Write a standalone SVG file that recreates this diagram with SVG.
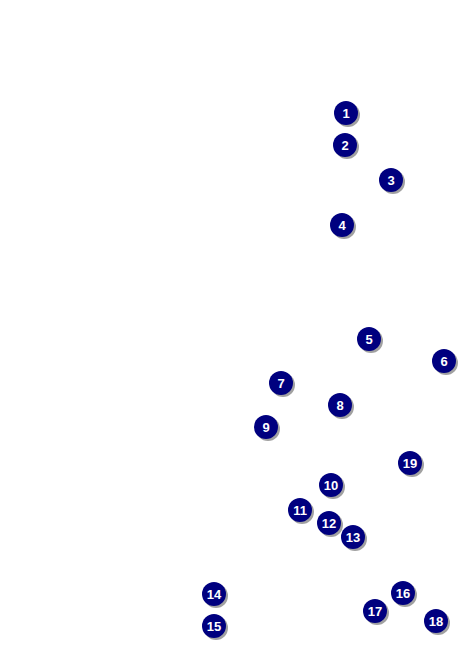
<svg xmlns="http://www.w3.org/2000/svg" width="476" height="647" viewBox="0 0 476 647">
<style>
.sh{fill:#8a8a8a;opacity:0.8}
.c{fill:#00007f}
.t{fill:#fff;font-family:"Liberation Sans",Arial,sans-serif;font-weight:bold;font-size:13px;text-anchor:middle}
</style>
<defs>
<g id="b"><circle class="sh" cx="2" cy="2" r="12"/><circle class="c" cx="0" cy="0" r="12"/></g>
</defs>
<rect width="476" height="647" fill="#fff"/>
<g id="connectors"></g>
<g id="n1" transform="translate(346,113)"><use href="#b"/><text class="t" y="4.7">1</text></g>
<g id="n2" transform="translate(345,145)"><use href="#b"/><text class="t" y="4.7">2</text></g>
<g id="n3" transform="translate(391,180)"><use href="#b"/><text class="t" y="4.7">3</text></g>
<g id="n4" transform="translate(342,225)"><use href="#b"/><text class="t" y="4.7">4</text></g>
<g id="n5" transform="translate(369,339)"><use href="#b"/><text class="t" y="4.7">5</text></g>
<g id="n6" transform="translate(444,361)"><use href="#b"/><text class="t" y="4.7">6</text></g>
<g id="n7" transform="translate(281,383)"><use href="#b"/><text class="t" y="4.7">7</text></g>
<g id="n8" transform="translate(340,405)"><use href="#b"/><text class="t" y="4.7">8</text></g>
<g id="n9" transform="translate(266,427)"><use href="#b"/><text class="t" y="4.7">9</text></g>
<g id="n10" transform="translate(331,485)"><use href="#b"/><text class="t" y="4.7">10</text></g>
<g id="n11" transform="translate(300,510)"><use href="#b"/><text class="t" y="4.7">11</text></g>
<g id="n12" transform="translate(329,523)"><use href="#b"/><text class="t" y="4.7">12</text></g>
<g id="n13" transform="translate(353,537)"><use href="#b"/><text class="t" y="4.7">13</text></g>
<g id="n14" transform="translate(214,594)"><use href="#b"/><text class="t" y="4.7">14</text></g>
<g id="n15" transform="translate(214,626)"><use href="#b"/><text class="t" y="4.7">15</text></g>
<g id="n16" transform="translate(403,593)"><use href="#b"/><text class="t" y="4.7">16</text></g>
<g id="n17" transform="translate(375,611)"><use href="#b"/><text class="t" y="4.7">17</text></g>
<g id="n18" transform="translate(436,621)"><use href="#b"/><text class="t" y="4.7">18</text></g>
<g id="n19" transform="translate(410,463)"><use href="#b"/><text class="t" y="4.7">19</text></g>
</svg>
